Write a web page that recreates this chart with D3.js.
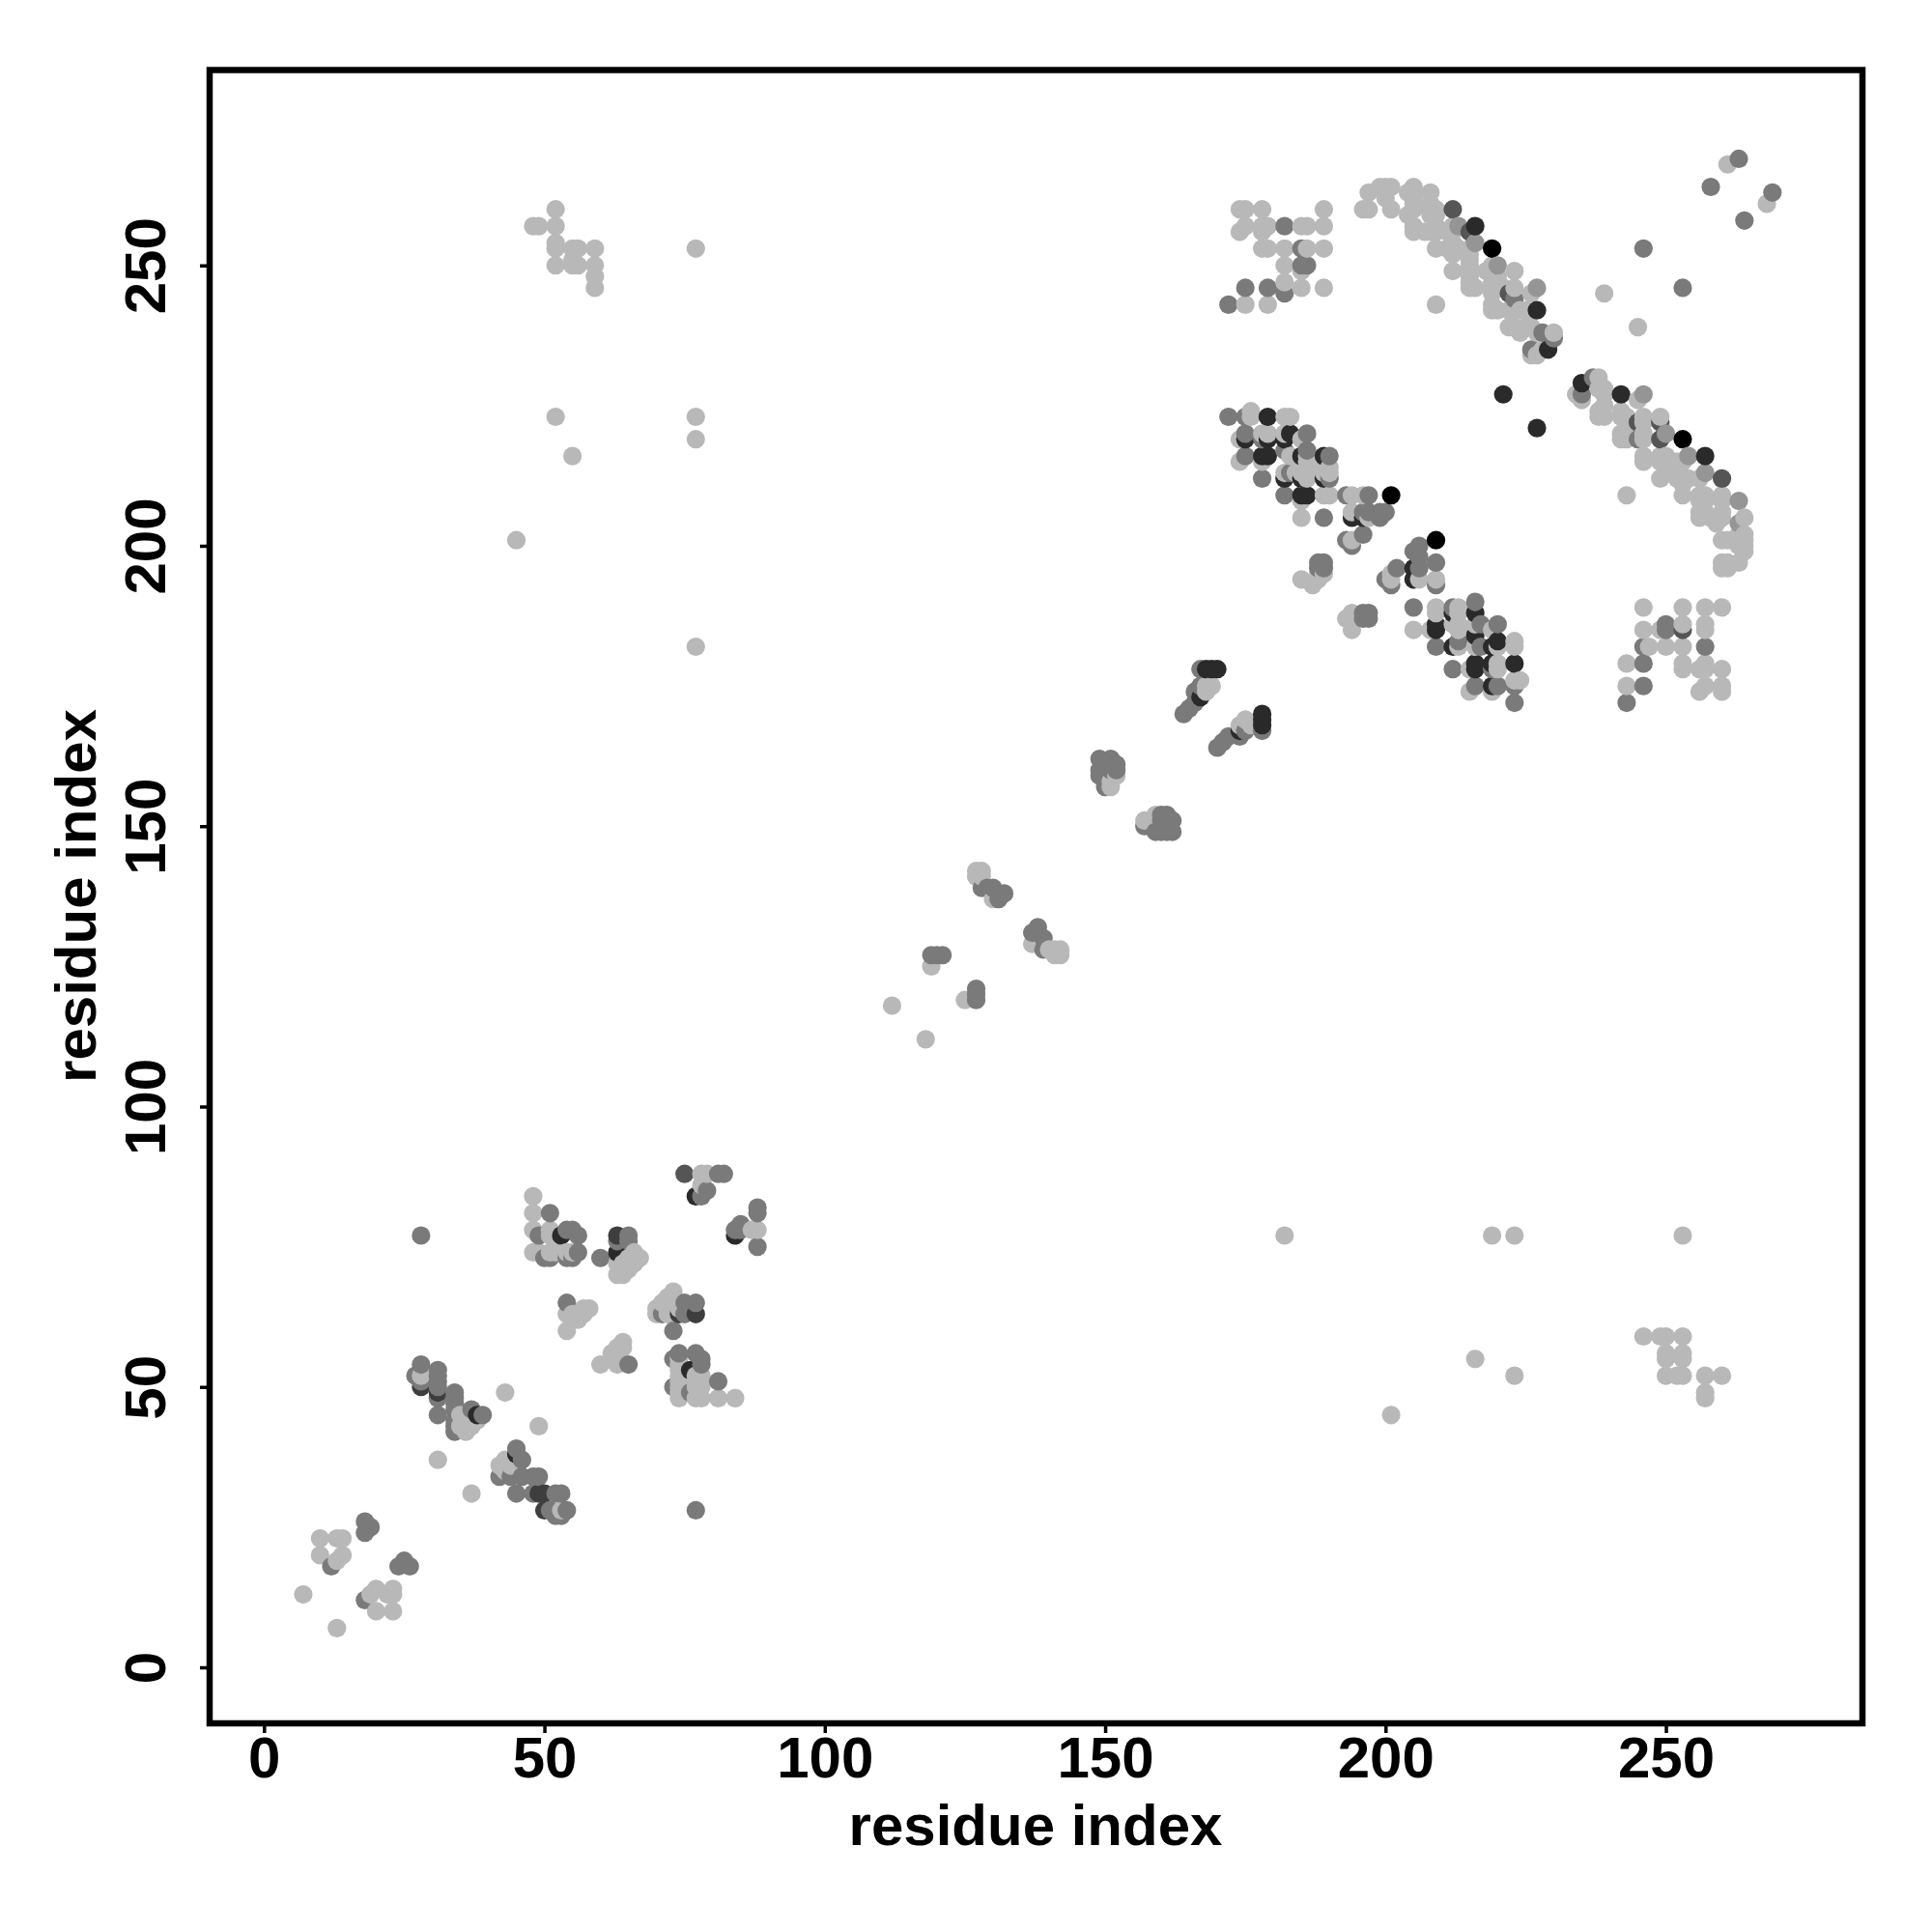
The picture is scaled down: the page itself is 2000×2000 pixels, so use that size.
<!DOCTYPE html>
<html><head><meta charset="utf-8">
<script src="https://cdn.jsdelivr.net/npm/d3@7"></script>
<style>html,body{margin:0;padding:0;background:#fff}svg{display:block}</style>
</head><body>
<svg id="c" width="2000" height="2000"></svg>
<script>
const tickValues=[0,50,100,150,200,250];
const axisTitle="residue index";
const blackContacts=[[201,209],[209,201],[219,253],[253,219]];
const darkContacts=[[38,45],[45,38],[53,77],[63,74],[77,84],[84,77],[76,53],
[167,173],[168,178],[169,178],[170,178],[178,170],[178,169],[178,168],[174,167],
[179,223],[175,219],[179,219],[182,219],[183,220],[178,216],[179,216],[185,216],[189,216],[182,212],[185,212],[189,212],[185,209],[186,209],[194,205],[196,205],[205,194],[205,196],[212,188],[216,188],[209,186],[209,185],[216,184],[212,182],[219,182],[220,183],[216,179],[216,178],[219,179],[223,179],[219,175],
[216,257],[229,235],[227,242],[221,227],[227,221],[235,229],[242,227],[257,216]];
const deepContacts=[[28,50],[31,49],[49,31],[50,31],[50,28],[63,77],[74,63],[77,63]];
const dimContacts=[[212,260],[260,212],[253,185],[215,256],[222,245],[249,222],[249,219],[245,222],[75,88]];
const softContacts=[[213,257],[216,254],[220,250],[227,246],[246,227],[250,220],[254,216],[257,213],[263,208],[263,204]];
const midContacts=[[12,18],[18,26],[18,24],[19,25],[24,18],[25,19],[26,18],[18,12],[28,77],[28,54],[27,52],[28,51],[31,53],[31,52],[31,51],[31,50],[31,48],[31,45],[34,49],[34,48],[34,47],[34,46],[34,44],[34,43],[34,42],[37,46],[39,45],
[45,39],[46,37],[42,34],[44,34],[46,34],[48,34],[49,34],[45,31],[48,31],[52,31],[53,31],[51,28],[52,27],[53,27],[54,28],[77,28],
[51,81],[49,77],[50,73],[51,73],[54,78],[55,78],[56,77],[54,73],[55,73],[56,74],[60,73],[65,77],[63,76],[65,76],[54,65],[65,54],
[81,88],[82,88],[78,84],[79,85],[88,82],[88,81],[85,79],[84,78],[85,78],[88,75],[73,60],[71,63],[75,65],[77,65],[75,63],
[73,55],[73,50],[74,56],[77,56],[78,55],[78,54],[76,49],[81,51],
[119,127],[120,127],[121,127],[127,121],[127,120],[127,119],[128,139],[129,139],[130,139],[131,137],[131,138],[132,138],[138,132],[137,131],[138,131],[139,130],[139,128],
[149,162],[151,162],[152,161],[149,159],[149,160],[151,160],[152,160],[150,157],[157,150],[159,149],[160,152],[161,152],[162,151],[160,149],[161,149],[162,149],[161,151],[160,151],
[164,170],[165,171],[166,172],[166,174],[167,178],[167,175],[170,164],[171,165],[172,166],[174,166],[175,167],[178,167],
[172,243],[175,246],[179,246],[182,245],[185,250],[186,250],[182,257],[185,253],
[172,223],[175,223],[175,220],[178,219],[186,220],[175,216],[182,217],[186,217],[178,212],[183,213],[190,216],[190,212],[182,209],[189,205],[193,209],[197,209],[196,206],[197,206],[199,206],[200,206],[199,205],[193,201],[194,200],[196,202],
[188,197],[189,197],[188,196],[189,196],[196,188],[197,188],[196,187],[197,187],[206,200],[205,199],[206,198],[209,197],[206,196],[209,193],[202,196],[200,194],[201,193],[205,189],[212,189],[216,190],[217,186],[220,186],[209,182],[213,183],[217,182],[212,178],[219,178],[216,175],[220,175],[223,175],[223,172],
[223,244],[228,238],[230,237],[226,235],[235,227],[237,230],[245,219],[250,186],[250,185],[246,182],[257,182],[246,179],[246,175],[243,172],
[258,264],[264,258],[263,269],[269,263],[246,253],[253,246]];
const lightContacts=[[7,13],[13,7],[10,23],[10,20],[13,23],[14,23],[14,20],[13,19],[19,13],[20,14],[20,10],[23,14],[22,13],[23,13],[23,10],
[28,52],[35,45],[36,42],[37,43],[38,44],[35,43],[43,49],[49,43],[31,37],[37,31],[42,36],[43,37],[43,35],[44,36],[53,28],
[48,84],[48,81],[48,78],[48,74],[51,78],[51,77],[49,74],[51,74],[52,74],[54,74],[55,74],
[63,70],[64,70],[64,72],[63,72],[65,71],[66,74],[67,73],[66,72],[65,73],[54,63],[54,60],[55,63],[56,62],[57,64],[58,64],[56,63],[57,63],
[60,54],[63,54],[64,58],[63,57],[62,56],[63,56],[64,57],[62,55],
[78,88],[79,88],[78,86],[87,78],[88,78],[73,67],[72,66],[71,65],[70,64],[70,63],[72,64],[72,63],[73,66],[74,64],
[74,55],[74,54],[74,53],[74,52],[74,51],[74,50],[74,49],[74,48],[78,52],[78,51],[77,52],[77,51],[77,50],[78,50],[78,48],[81,48],[84,48],[77,48],
[182,77],[219,77],[223,77],[253,77],[216,55],[223,52],[201,45],
[246,59],[249,59],[250,59],[253,59],[250,56],[250,55],[253,56],[253,55],[250,52],[252,52],[253,52],[257,52],[260,52],[257,49],[257,48],
[48,257],[49,257],[52,260],[52,257],[52,254],[52,253],[52,250],[55,253],[56,253],[55,250],[56,250],[55,251],[59,253],[59,250],[59,248],[59,246],[77,253],[52,223],[77,223],[77,219],[55,216],[45,201],[77,182],
[112,118],[118,112],[119,125],[125,119],[127,142],[128,142],[127,141],[128,141],[130,137],[137,129],[140,128],[141,128],[142,128],[141,127],[142,127],
[151,157],[151,158],[152,159],[157,151],[159,152],[168,174],[168,175],[169,175],[174,168],[175,169],[176,168],
[175,243],[179,243],[182,247],[185,246],[189,246],[182,250],[185,249],[178,253],[179,253],[182,253],[186,253],[189,253],[174,256],[175,257],[178,256],[178,257],[179,257],[185,257],[186,257],[189,257],[174,260],[175,260],[178,260],[189,260],
[196,260],[197,260],[197,263],[199,264],[200,264],[201,264],[200,262],[201,260],[204,263],[205,264],[205,263],[205,262],[205,261],[204,259],[205,260],[205,257],[205,256],[208,263],[209,260],[208,261],[208,260],[208,259],[209,259],[209,257],[207,256],[208,256],[209,256],[211,256],[212,257],[212,256],[209,253],[211,253],[212,254],[212,253],[212,252],[213,253],[215,253],[212,249],[215,252],[215,251],[215,250],[215,249],[215,248],[215,247],[215,246],[216,246],[218,249],[219,250],[219,249],[219,247],[219,245],[219,243],[223,249],[219,246],[220,248],[220,246],[221,246],[219,242],[220,242],[223,246],[222,242],[223,243],[223,242],[224,242],[225,242],[226,245],[222,239],[223,239],[224,238],[225,239],[226,239],[227,238],[230,238],[226,234],[227,234],[228,235],[239,245],[209,243],[245,239],
[234,227],[235,226],[238,230],[238,228],[239,228],[239,227],[238,224],[238,223],[239,223],[239,225],[245,226],[242,224],[242,223],[242,220],[242,219],[243,223],[243,220],[243,219],[246,223],[246,222],[246,220],[246,219],[246,216],[249,223],[246,215],[249,216],[249,215],[250,216],[250,215],[250,214],[251,215],[249,212],[252,215],[253,215],[253,212],[254,212],[252,212],[253,211],[256,212],[253,209],[256,209],[256,208],[256,206],[257,209],[257,208],[257,206],[258,205],[259,204],[256,205],[259,205],[260,209],[260,208],[260,206],[260,205],[264,205],[260,201],[261,201],[262,201],[263,202],[263,201],[263,200],[264,202],[264,201],[264,200],[264,199],[260,197],[261,197],[260,196],[261,196],[263,197],[243,209],
[174,219],[176,224],[176,223],[182,223],[183,223],[178,220],[179,220],[182,220],[185,219],[174,215],[178,215],[183,216],[186,216],[182,213],[184,213],[185,214],[185,213],[186,215],[186,214],[186,213],[185,212],[186,212],[190,214],[190,213],[189,214],[189,213],[185,208],[189,209],[190,209],[185,205],[194,209],[196,209],[194,206],[197,205],[194,201],[189,195],[188,195],[185,194],[187,193],[188,194],[193,187],[194,188],[194,185],
[206,194],[209,194],[201,195],[201,194],[209,189],[209,188],[213,189],[213,188],[205,185],[208,185],[212,186],[213,186],[213,185],[216,186],[219,185],[213,182],[216,182],[220,182],[223,183],[223,182],[215,178],[220,179],[220,178],[215,174],[219,174],[223,176],[224,176],
[246,189],[253,189],[257,189],[260,189],[246,185],[249,185],[253,186],[257,186],[257,185],[247,182],[250,182],[253,182],[243,179],[253,179],[253,178],[257,179],[256,178],[257,178],[260,178],[243,175],[257,175],[256,174],[260,175],[260,174],[261,268],[268,261]];

const shades=[["light",lightContacts,"#b8b8b8"],["soft",softContacts,"#959595"],["mid",midContacts,"#7a7a7a"],["dim",dimContacts,"#555555"],["deep",deepContacts,"#3e3e3e"],["dark",darkContacts,"#2a2a2a"],["black",blackContacts,"#000000"]];
const points=shades.flatMap(([k,list,col])=>list.map(([x,y])=>({x,y,col})))
  .sort((a,b)=>d3.ascending(a.x,b.x)||d3.ascending(a.y,b.y));

const svg=d3.select("#c");
const left=217,right=1928,top_=72.5,bottom=1784;
const x=d3.scaleLinear().domain([-9.70,285.05]).range([left,right]);
const y=d3.scaleLinear().domain([-9.99,284.84]).range([bottom,top_]);

svg.append("g").selectAll("circle").data(points).join("circle")
  .attr("cx",d=>x(d.x)).attr("cy",d=>y(d.y)).attr("r",9.6).attr("fill",d=>d.col);

svg.append("rect").attr("x",left).attr("y",top_).attr("width",right-left).attr("height",bottom-top_)
  .attr("fill","none").attr("stroke","#000").attr("stroke-width",6.5);

const font="'Liberation Sans',Arial,sans-serif";
const gx=svg.append("g").attr("transform",`translate(0,${bottom})`).call(d3.axisBottom(x).tickValues(tickValues).tickSize(10).tickPadding(0));
gx.select(".domain").remove();
gx.selectAll("line").attr("stroke","#000").attr("stroke-width",3.5);
gx.selectAll("text").attr("y",null).attr("dy",null).attr("transform",null)
  .attr("y",56).attr("fill","#000").style("font",`bold 60px ${font}`).attr("text-anchor","middle");

const gy=svg.append("g").attr("transform",`translate(${left},0)`).call(d3.axisLeft(y).tickValues(tickValues).tickSize(10).tickPadding(0));
gy.select(".domain").remove();
gy.selectAll("line").attr("stroke","#000").attr("stroke-width",3.5);
gy.selectAll("text").attr("x",null).attr("dy",null).attr("y",null)
  .attr("transform","translate(-46,0) rotate(-90)").attr("fill","#000")
  .style("font",`bold 60px ${font}`).attr("text-anchor","middle");

svg.append("text").attr("x",1072).attr("y",1910).attr("text-anchor","middle")
  .style("font",`bold 60px ${font}`).text(axisTitle);
svg.append("text").attr("transform","translate(99,927.5) rotate(-90)").attr("text-anchor","middle")
  .style("font",`bold 60px ${font}`).text(axisTitle);
</script>
</body></html>
